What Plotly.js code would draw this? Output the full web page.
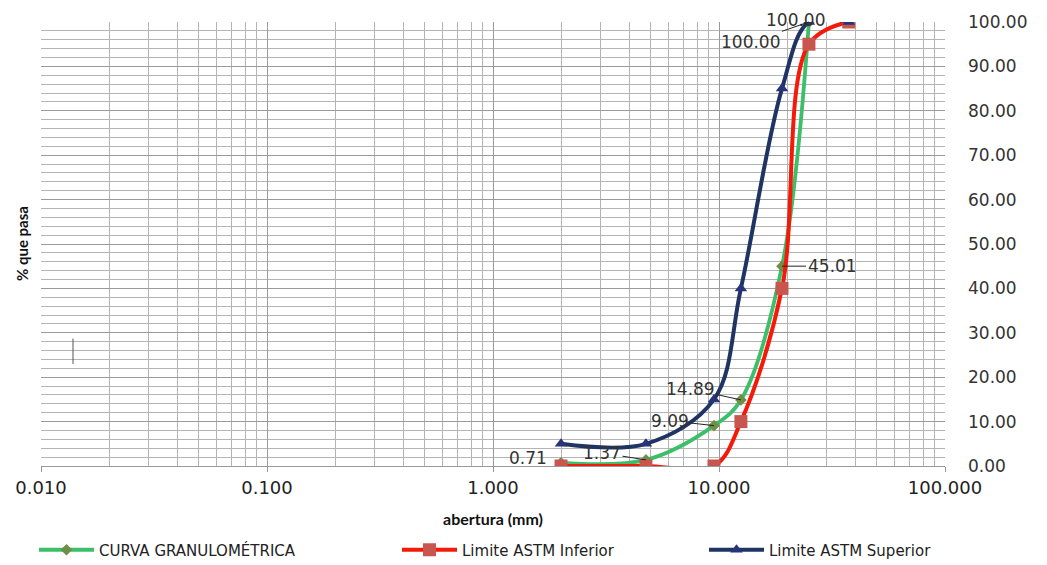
<!DOCTYPE html>
<html>
<head>
<meta charset="utf-8">
<script src="https://cdn.plot.ly/plotly-3.0.1.min.js"></script>
<style>html,body{margin:0;padding:0;background:#fff;}#chart{width:1047px;height:565px;}</style>
</head>
<body>
<div id="chart"></div>
<script>
// Sieve openings (mm)
var sizesCurva = [2.0, 4.75, 9.5, 12.5, 19.0, 25.0];
var curva = [0.71, 1.37, 9.09, 14.89, 45.01, 100.00];
var sizesInf = [2.0, 4.75, 9.5, 12.5, 19.0, 25.0, 37.5];
var limInf = [0, 0, 0, 10, 40, 95, 100];
var sizesSup = [2.0, 4.75, 9.5, 12.5, 19.0, 25.0, 37.5];
var limSup = [5, 5, 15, 40, 85, 100, 100];
var xTickVals = [0.01, 0.1, 1, 10, 100];
var xTickText = ['0.010', '0.100', '1.000', '10.000', '100.000'];
var seriesNames = ['CURVA GRANULOMÉTRICA', 'Limite ASTM Inferior', 'Limite ASTM Superior'];

var minorX = [];
for (var d = -2; d < 2; d++) { for (var k = 2; k <= 9; k++) { minorX.push(k * Math.pow(10, d)); } }

var wide = 'DejaVu Sans, Verdana, sans-serif';
var cond = 'Lato, Liberation Sans, Arial';

var traces = [
  {x: sizesCurva, y: curva, name: seriesNames[0], type: 'scatter', mode: 'lines+markers', legend: 'legend',
   line: {color: '#3DBE68', width: 3.8, shape: 'spline', smoothing: 1.0},
   marker: {symbol: 'diamond', size: 9, color: '#6E8F45'}},
  {x: sizesInf, y: limInf, name: seriesNames[1], type: 'scatter', mode: 'lines+markers', legend: 'legend2',
   line: {color: '#F5190A', width: 4, shape: 'spline', smoothing: 1.0},
   marker: {symbol: 'square', size: 13, color: '#C9564E'}},
  {x: sizesSup, y: limSup, name: seriesNames[2], type: 'scatter', mode: 'lines+markers', legend: 'legend3',
   line: {color: '#1F3463', width: 4, shape: 'spline', smoothing: 1.0},
   marker: {symbol: 'triangle-up', size: 11, color: '#27337A'}}
];

function lg(v){return Math.log10(v);}
var af = {family: wide, size: 17, color: '#333'};
function lab(i, opts){
  var a = {x: lg(sizesCurva[i]), y: curva[i], text: curva[i].toFixed(2), font: af,
           showarrow: true, arrowhead: 0, arrowwidth: 1, arrowcolor: '#222'};
  for (var key in opts) a[key] = opts[key];
  return a;
}
var annotations = [
  lab(0, {showarrow: false, xanchor: 'right', xshift: -12, yshift: 5}),
  lab(1, {ax: -44, ay: -7}),
  lab(2, {ax: -44, ay: -5}),
  lab(3, {ax: -50, ay: -11}),
  lab(4, {ax: 50, ay: 0}),
  lab(5, {showarrow: false, xshift: -13, yshift: 2}),
  lab(5, {ax: -58, ay: 20})
];

var legBase = {orientation: 'h', yref: 'container', xref: 'container', y: 1 - 550/565, yanchor: 'middle', xanchor: 'left',
  font: {family: wide, size: 15, color: '#222'}, itemwidth: 55, bgcolor: 'rgba(0,0,0,0)'};
function leg(px){ var o = {}; for (var k in legBase) o[k] = legBase[k]; o.x = px / 1047; return o; }

var layout = {
  width: 1047, height: 565,
  margin: {l: 41, r: 102, t: 22, b: 99},
  paper_bgcolor: '#fff', plot_bgcolor: '#fff',
  showlegend: true,
  xaxis: {
    type: 'log', range: [-2, 2],
    tickmode: 'array', tickvals: xTickVals, ticktext: xTickText,
    ticks: 'outside', ticklen: 5, tickcolor: '#999',
    showline: true, linecolor: '#999', linewidth: 1,
    showgrid: true, gridcolor: '#9a9a9a', gridwidth: 1,
    minor: {tickmode: 'array', tickvals: minorX, showgrid: true, gridcolor: '#b4b4b4', gridwidth: 1, ticks: ''},
    tickfont: {family: wide, size: 18, color: '#222'},
    title: {text: 'abertura (mm)', font: {family: cond, size: 16, color: '#111', weight: 'bold'}, standoff: 17},
    zeroline: false, automargin: false
  },
  yaxis: {
    range: [0, 100], side: 'right', dtick: 10, tickformat: '.2f',
    showgrid: true, gridcolor: '#9a9a9a', gridwidth: 1,
    minor: {dtick: 2, showgrid: true, gridcolor: '#b4b4b4', gridwidth: 1},
    showline: false, ticks: '', ticklabelstandoff: 22,
    tickfont: {family: wide, size: 17, color: '#333'},
    zeroline: false, automargin: false
  },
  legend: leg(34),
  legend2: leg(397),
  legend3: leg(704),
  annotations: annotations.concat([
    {xref: 'paper', yref: 'paper', x: -0.021, y: 0.5, text: '<b>% que pasa</b>', textangle: -90, showarrow: false,
     font: {family: cond, size: 15, color: '#111'}, xanchor: 'center', yanchor: 'middle'}
  ]),
  shapes: [
    {type: 'line', xref: 'paper', yref: 'paper', x0: 0.0354, x1: 0.0354, y0: 0.23, y1: 0.287, line: {color: '#555', width: 1}}
  ]
};

Plotly.newPlot('chart', traces, layout, {displayModeBar: false, staticPlot: true});
</script>
</body>
</html>
